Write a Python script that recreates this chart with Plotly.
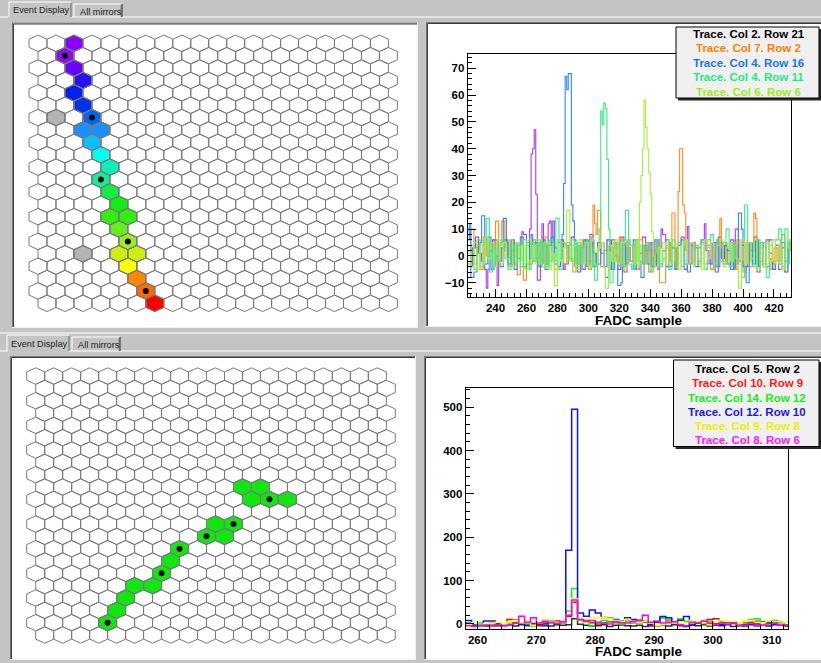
import plotly.graph_objects as go

W, H = 821, 663

# ---------------- hexagonal camera: grid and hit cells ----------------
GRID_COLS = list(range(1, 21))
GRID_ROWS = list(range(1, 23))

top_cell_col = [3, 2, 3, 3, 3, 3, 4, 2, 3, 4, 4, 4, 5, 4, 5, 5, 5, 6, 5, 6, 5, 6, 3, 6, 6, 7, 7]
top_cell_row = [22, 21, 20, 19, 18, 17, 16, 16, 15, 15, 14, 13, 12, 11, 10, 9, 8, 8, 7, 6, 5, 5, 5, 4, 3, 2, 1]
top_cell_color = ["#8c00ff", "#8a0ee6", "#6a00ff", "#2a11ee", "#0022ee", "#0033ee", "#0066ee", "#b4b4b4",
                  "#1a90ff", "#1a90ff", "#11bbff", "#00ffee", "#11eebb", "#11ee99", "#11ee44", "#11ee11",
                  "#33ee11", "#33ee11", "#66ee22", "#99ee22", "#ccee11", "#ccee11", "#b4b4b4", "#ffff00",
                  "#ff8800", "#ff6a00", "#ff0000"]
top_dot_col = [2, 4, 4, 6, 7]
top_dot_row = [21, 16, 11, 6, 2]

bot_cell_col = [12, 13, 13, 14, 15, 11, 12, 10, 11, 9, 8, 8, 6, 7, 6, 5, 5]
bot_cell_row = [13, 13, 12, 12, 12, 10, 10, 9, 9, 8, 7, 6, 5, 5, 4, 3, 2]
bot_cell_color = "#11e611"
bot_dot_col = [5, 8, 9, 10, 12, 14]
bot_dot_row = [2, 6, 8, 9, 10, 12]

# ---------------- FADC traces ----------------
top_first_sample = 222
top_labels = ["Trace. Col 2. Row 21", "Trace. Col 7. Row 2", "Trace. Col 4. Row 16",
              "Trace. Col 4. Row 11", "Trace. Col 6. Row 6"]
top_label_colors = ["#000000", "#ff8000", "#1a75ff", "#1aee80", "#99ee22"]
top_line_colors = ["#a040f0", "#ff8c1a", "#3385ff", "#33ee88", "#a6f033"]

trace_c2_r21 = ([-4, -4, -4, 3, 3, 7, 7, 1, 1, -2, -2, -5, -12, -5, 2, 2, 6, 6, 0, -11, -2] +
                [-2, 3, 3, 6, 6, -3, -3, 2, 2, 5, 5, -1, -1, 4, 9, 8, 8, -3, -3, 10, 38] +
                [40, 47, 23, -9, -9, 2, 12, 4, 4, -3, 12, 13, 5, 13, 3, 3, -4, -4, 6, 6, -5] +
                [-3, -3, 4, 4, 7, 7, 2, 2, -6, -6, 3, 3, 6, 6, -4, -4, 8, 8, 1, 1, -3] +
                [5, 5, 1, 1, -4, -8, -8, 2, 2, 6, 6, 0, 0, -5, -5, 7, 7, -6, -6, 3, 3] +
                [-2, -2, 6, 6, -5, -5, 1, 1, 7, 7, 2, 2, 5, 5, -4, -4, 6, 6, -5, 3, 10] +
                [8, 8, -4, -4, 5, 5, 3, 3, -3, -3, 4, 4, 7, 7, -5, -5, 11, -3, -3, 5, 5] +
                [3, 3, -2, -2, 6, 6, 12, 2, 2, -3, -3, 5, 5, -6, -6, 7, 7, -1, -1, 4, 4] +
                [-3, -3, 6, 6, -5, 10, 10, -2, -2, 4, 4, -4, -4, 5, 5, 2, 2, 7, 7, -6, -6] +
                [3, 3, -4, -4, 6, 6, 1, 1, -3, -3, 4, 4, -5, -5, 3, 3, -2, -2, 5, 5, 3])
trace_c7_r2 = ([2, 2, 10, 10, -3, -3, 4, 4, -5, -5, 7, 7, 0, 0, 5, 5, -4, -4, 13, 13, -2] +
               [5, 13, 13, 2, 2, -4, -4, 6, 6, -3, -3, -7, -7, 5, 5, -9, -9, 4, 4, -3, -3] +
               [6, 6, -1, -1, 5, 5, -4, -4, 7, 7, -2, -2, 4, 4, -5, -5, 6, 6, 2, 2, -3] +
               [-3, 5, 5, -1, -1, -6, -6, 4, 4, -3, -3, 6, 6, -2, -2, -5, -5, 7, 19, 12, 8] +
               [17, 17, -4, -4, 2, 2, 6, 6, -5, -5, 5, 5, -2, -2, 7, 7, -4, -4, 5, 5, 3] +
               [-2, -2, 4, 4, -5, -5, 6, 6, -3, -3, 5, 5, -6, -6, 2, 2, -2, -2, 5, -10, -10] +
               [-10, -10, 3, 3, -2, 5, 16, 16, -5, 3, 24, 40, 40, 19, 16, 2, -3, -3, 5, 5, -2] +
               [4, 4, -4, -4, 5, 5, -3, -3, 6, 6, -5, -5, 1, 1, 6, 6, 14, 3, -2, -2, 5] +
               [-3, -3, 4, 4, -5, -5, 6, 6, -2, -2, -6, -6, 5, 5, -4, -4, 2, 16, 14, 3, -2] +
               [5, 5, -3, -3, 6, 6, -1, -5, -5, 3, 3, -2, -2, 6, 8, 8, -6, -6, 2, 2, 5])
trace_c4_r16 = ([6, 12, -8, -8, -6, -6, 3, 3, 5, 15, 15, -3, -3, 7, 7, -5, -5, 6, 6, -2, -2] +
                [-4, -4, 14, 14, 5, -3, -3, 6, 6, -5, -5, 4, 4, 7, 7, -4, -4, 5, 5, -1, 8] +
                [-2, -2, 5, 5, -4, -4, 6, 6, -5, -5, 4, 4, 7, 7, -3, -3, 5, 5, -1, 8, 27] +
                [67, 62, 68, 68, 19, 13, 6, -3, -3, 4, 4, -5, -5, 6, 6, -2, -2, 5, -4, -4, 1] +
                [-3, -3, 5, 5, -4, -4, 6, 6, 2, -5, -5, 5, 5, -11, -11, -10, 4, 4, -3, 6, 6] +
                [4, 4, -5, -5, 6, 6, -2, -8, -8, 4, 4, -3, -3, 5, 5, -4, -4, 6, 6, -3, -3] +
                [2, 2, 6, 6, -4, -4, 3, 3, -5, -5, 4, 4, 6, 6, -3, -3, -6, -6, 4, 4, -2] +
                [-4, -4, 3, 3, 6, 6, -5, -5, 4, 4, -3, -3, 5, 5, -4, -4, 5, 5, -3, -3, 4] +
                [2, 2, -5, -5, 4, 4, -3, 16, 16, 10, -4, -4, -10, -10, 5, 5, -3, -3, 6, 6, -4] +
                [-2, -2, 5, 5, -4, -4, 6, 6, -5, -5, 4, 4, -3, -3, 5, 5, -6, -6, 3, 5, 5])
trace_c4_r11 = ([-3, -3, 4, 4, -5, -5, 6, 6, -4, -4, 5, 5, 14, 14, -6, -6, 3, 3, -2, -2, 4] +
                [4, 6, 6, -1, -1, -5, -5, 4, 4, -2, -2, 5, 5, -4, -4, 6, 6, -3, -3, -5, 5] +
                [5, -2, -2, 6, 6, -3, -3, 5, 5, -4, -4, 6, 6, -2, -2, 14, 14, -5, -5, 5, 5] +
                [4, 4, -2, -2, 6, 6, -4, -4, 5, 5, -3, -3, 4, 4, 6, 6, -4, -4, 3, -9, -9] +
                [2, 10, 54, 49, 57, 55, 36, 10, -10, -10, 3, 3, 5, 5, -4, -4, 6, 6, 17, 17, -3] +
                [-3, -5, -5, 6, 6, -2, -2, 4, 4, -3, -3, 5, 5, -6, -6, 1, 1, 6, 6, -4, -4] +
                [-1, -1, 4, 4, -5, -5, 6, 6, -3, -3, 5, 5, -4, -4, 6, 6, -3, -3, 5, 5, -2] +
                [4, 4, -3, -3, 6, 6, -5, -5, 3, 3, 8, 8, -4, -4, 6, 6, -2, -2, 5, 5, 10] +
                [10, -4, -4, 5, 5, -1, -1, -3, -3, -8, -8, 19, 19, -2, -2, 5, 5, -4, -4, 6, 6] +
                [-3, -3, 5, 5, -8, -8, 4, 4, -2, -2, 6, 6, 10, 10, -4, -4, 10, 10, -3, 6, 6])
trace_c6_r6 = ([1, 1, -4, -4, 5, 5, -5, -5, 4, 4, -3, 7, 7, -1, -1, 5, 5, -4, -4, 6, 6] +
               [-3, -3, 5, 5, -1, -1, 6, 6, -4, -4, 5, 5, -2, -2, 4, 4, -5, -5, 6, 6, -2] +
               [4, 4, -3, -3, 6, 6, -4, -4, 5, 5, -5, -5, 1, 1, -11, -11, 6, 6, -2, -2, 3] +
               [5, 17, 17, -2, -2, 4, 4, -5, -5, 6, 6, -3, -3, 5, 5, -4, -4, 6, 6, -3, -3] +
               [3, 3, 5, 5, -4, -12, -12, 4, 4, -2, -2, 6, 6, -3, -3, 5, 5, -5, -5, 6, 6] +
               [4, 4, -3, -3, 6, -4, 20, 30, 40, 58, 48, 40, 31, 23, 9, 0, -4, -4, 3, 3, -2] +
               [5, 5, -3, -3, 6, 6, -2, -2, 5, 5, -5, -5, 4, 4, 6, 6, -3, -3, 5, 5, -4] +
               [-2, -2, 4, 4, -5, -5, 6, 6, -1, -1, 5, 5, -3, -3, 4, 4, 6, 6, -4, -4, 3] +
               [5, 5, -2, -2, 4, 4, -4, -12, -12, 6, 6, -3, -3, 5, 5, -1, -1, 6, 6, -5, -5] +
               [3, 3, -4, -4, 5, 5, -2, -2, 6, 6, -3, -3, 4, 4, -5, -5, 3, 3, 6, 6, 3])
top_traces = [trace_c2_r21, trace_c7_r2, trace_c4_r16, trace_c4_r11, trace_c6_r6]

bot_first_sample = 258
bot_labels = ["Trace. Col 5. Row 2", "Trace. Col 10. Row 9", "Trace. Col 14. Row 12",
              "Trace. Col 12. Row 10", "Trace. Col 9. Row 8", "Trace. Col 8. Row 6"]
bot_label_colors = ["#000000", "#ff1a1a", "#1aee1a", "#1a1aee", "#eeee00", "#ff1aff"]
bot_line_colors = ["#303030", "#ff0000", "#00ff00", "#1010ff", "#ffff00", "#ff00ff"]

trace_c5_r2 = ([-3, -5, -4, -5, -3, -4, -2, -3, -5, -2, -4, -3, -1, -4, -5, -2, -3] +
               [-2, 12, -1, -3, -5, -4, -2, -6, -3, -2, -4, -5, -3, -6, -2, -4, -3, -5, -2, -4, -6, -3] +
               [-4, -2, -5, -3, -4, -2, -6, -3, -5, -2, -4, -3, -5, 2, -3, -4])
trace_c10_r9 = ([0, -3, -4, -2, -4, -1, -3, 10, 9, 2, 5, 1, -4, 3, 4, 7, 3] +
                [18, 50, 10, 8, 3, 0, 2, 5, 4, -2, 6, 3, 8, 5, -5, 4, 14, 6, 3, 9, 5, -2] +
                [2, 6, 10, 12, 3, 4, 1, -3, 2, 4, 6, 5, 2, 4, 1, -2])
trace_c14_r12 = ([3, -2, 2, 0, 3, 1, -2, 2, 4, 1, 0, -5, 3, 5, 8, 2, 3] +
                 [30, 82, 8, 5, -5, 3, 8, 4, 2, 0, 6, 4, 2, 8, 3, 6, 15, 10, 4, 12, 6, 2] +
                 [4, 1, 6, 3, 5, 4, 2, -2, 1, 10, 12, 5, 6, 8, 4, -3])
trace_c12_r10 = ([8, -3, -3, 7, 7, 2, -2, -3, 2, 0, -3, 0, 2, 0, 3, 2, 5] +
                 [170, 495, 25, 18, 32, 25, 15, 13, 10, 6, 14, 10, 8, 5, -2, 5, 17, 14, 5, 8, 17, -3] +
                 [2, 4, 0, 2, -2, 5, 3, -4, -2, 3, 0, 4, 2, -2, 3, -5])
trace_c9_r8 = ([-2, 3, -6, 1, 2, 4, 0, 5, 8, 3, 6, -3, 2, 10, 6, 4, 5] +
               [20, 58, 12, 10, 14, 15, 15, 12, 8, 5, 10, 6, 4, 6, 2, -3, -2, 4, 2, 5, 3, 8] +
               [6, 3, -2, 4, 8, 6, 5, 2, 6, 8, 4, 3, 6, 5, 2, 4])
trace_c8_r6 = ([-4, -6, -5, -3, -4, -2, -5, -3, 2, 18, 4, 14, 2, 6, 4, 1, 5] +
               [20, 55, 10, 6, 8, 4, 2, 0, 5, 3, 2, 6, 8, 20, 4, 6, 2, 3, 5, -2, -4, 4] +
               [3, 6, 2, -2, 2, 0, 3, -4, -3, 2, -4, -3, 0, 2, -3, -5])
bot_traces = [trace_c5_r2, trace_c10_r9, trace_c14_r12, trace_c12_r10, trace_c9_r8, trace_c8_r6]

TAB_LABELS = ["Event Display", "All mirrors"]
X_TITLE = "FADC sample"

# ---------------- helpers ----------------
def PX(x):
    return x / W


def PY(y):
    return 1 - y / H


shapes = []


def rect(x0, y0, x1, y1, fill, line_color=None, lw=0, layer="below"):
    shapes.append(dict(type="rect", xref="paper", yref="paper", x0=PX(x0), x1=PX(x1),
                       y0=PY(y1), y1=PY(y0), fillcolor=fill, layer=layer,
                       line=dict(color=line_color or fill, width=lw)))


def seg(x0, y0, x1, y1, color, lw=1, layer="below"):
    shapes.append(dict(type="line", xref="paper", yref="paper", x0=PX(x0), x1=PX(x1),
                       y0=PY(y0), y1=PY(y1), layer=layer, line=dict(color=color, width=lw)))


def canvas(x0, y0, x1, y1):
    rect(x0, y0, x1, y1, "#ffffff")
    seg(x0, y0 + 0.5, x1, y0 + 0.5, "#7a7a7a", 1)
    seg(x0 + 0.5, y0, x0 + 0.5, y1, "#7a7a7a", 1)
    seg(x0 + 1.5, y0 + 1.5, x1, y0 + 1.5, "#3c3c3c", 1)
    seg(x0 + 1.5, y0 + 1.5, x0 + 1.5, y1, "#3c3c3c", 1)
    seg(x0, y1 - 0.5, x1, y1 - 0.5, "#f2f2f2", 1)
    seg(x1 - 0.5, y0, x1 - 0.5, y1, "#f2f2f2", 1)


def hex_xy(c, r):
    x = c + (0.5 if r % 2 == 1 else 0.0)
    return ([x, x + 0.5, x + 0.5, x, x - 0.5, x - 0.5, x],
            [r + 2 / 3, r + 1 / 3, r - 1 / 3, r - 2 / 3, r - 1 / 3, r + 1 / 3, r + 2 / 3])


def hex_center(c, r):
    return c + (0.5 if r % 2 == 1 else 0.0), r


fig = go.Figure()
annotations = []


def add_camera(ax, cells_c, cells_r, colors, dots_c, dots_r, dom_px, cx0, pitch, ry1, dy):
    px0, py0, px1, py1 = dom_px
    xa, ya = "x" + ax, "y" + ax
    for c, r, col in zip(cells_c, cells_r, colors):
        xs, ys = hex_xy(c, r)
        fig.add_trace(go.Scatter(x=xs, y=ys, mode="lines", fill="toself", fillcolor=col,
                                 line=dict(color="#777777", width=1), xaxis=xa, yaxis=ya,
                                 hoverinfo="skip", showlegend=False))
    gx, gy = [], []
    for r in GRID_ROWS:
        for c in GRID_COLS:
            xs, ys = hex_xy(c, r)
            gx += xs + [None]
            gy += ys + [None]
    fig.add_trace(go.Scatter(x=gx, y=gy, mode="lines", line=dict(color="#7a7a7a", width=1),
                             xaxis=xa, yaxis=ya, hoverinfo="skip", showlegend=False))
    dx_, dy_ = zip(*[hex_center(c, r) for c, r in zip(dots_c, dots_r)])
    fig.add_trace(go.Scatter(x=list(dx_), y=list(dy_), mode="markers",
                             marker=dict(color="black", size=6, line=dict(width=0)),
                             xaxis=xa, yaxis=ya, hoverinfo="skip", showlegend=False))
    xr = [1 + (px0 - cx0) / pitch, 1 + (px1 - cx0) / pitch]
    yr = [1 + (ry1 - py1) / dy, 1 + (ry1 - py0) / dy]
    fig.update_layout(**{
        "xaxis" + ax: dict(domain=[PX(px0), PX(px1)], range=xr, visible=False, anchor="y" + ax),
        "yaxis" + ax: dict(domain=[PY(py1), PY(py0)], range=yr, visible=False, anchor="x" + ax),
    })


def add_hist(ax, first, traces, line_colors, lw, dom_px, xr, yr, xd, xminor, yd, yminor,
             labels, label_colors, box_px, label_y, title_xy):
    px0, py0, px1, py1 = dom_px
    xa, ya = ("x" + ax) if ax else "x", ("y" + ax) if ax else "y"
    for vals, col in zip(traces, line_colors):
        edges = list(range(first, first + len(vals) + 1))
        fig.add_trace(go.Scatter(x=edges, y=list(vals) + [vals[-1]], mode="lines",
                                 line=dict(color=col, width=lw, shape="hv"),
                                 xaxis=xa, yaxis=ya, hoverinfo="skip", showlegend=False))
    tf = dict(family="Liberation Sans", size=11.5, color="black", weight="bold")
    common = dict(showline=True, linecolor="black", linewidth=1, mirror=True, showgrid=False,
                  zeroline=False, ticks="inside", ticklen=8, tickcolor="black", tickfont=tf)
    fig.update_layout(**{
        "xaxis" + ax: dict(domain=[PX(px0), PX(px1)], range=xr, dtick=xd, tick0=0,
                           minor=dict(dtick=xminor, ticks="inside", ticklen=4, tickcolor="black"),
                           anchor=ya, **common),
        "yaxis" + ax: dict(domain=[PY(py1), PY(py0)], range=yr, dtick=yd, tick0=0,
                           minor=dict(dtick=yminor, ticks="inside", ticklen=4, tickcolor="black"),
                           anchor=xa, **common),
    })
    bx0, by0, bx1, by1 = box_px
    rect(bx0 + 2, by0 + 2, bx1 + 2, by1 + 2.5, "#2a2a2a", layer="above")
    rect(bx0, by0, bx1, by1, "#f0f0f0", "#000000", 1, layer="above")
    cx = (bx0 + bx1) / 2 + 1
    for txt, col, yy in zip(labels, label_colors, label_y):
        annotations.append(dict(x=PX(cx), y=PY(yy), xref="paper", yref="paper", text="<b>%s</b>" % txt,
                                showarrow=False, xanchor="center", yanchor="middle",
                                font=dict(family="Liberation Sans", size=11.5, color=col)))
    annotations.append(dict(x=PX(title_xy[0]), y=PY(title_xy[1]), xref="paper", yref="paper",
                            text="<b>%s</b>" % X_TITLE, showarrow=False, xanchor="center",
                            yanchor="middle", font=dict(family="Liberation Sans", size=13.5, color="black")))


def tab_bar(y_top, y_line, sel_text_x, tab2_x0, tab2_x1):
    seg(0, y_line, 8, y_line, "#ffffff", 1)
    seg(tab2_x0 - 3, y_line, W, y_line, "#ffffff", 1)
    seg(sel_text_x - 2, y_top, sel_text_x - 2, y_line, "#ffffff", 1)
    seg(sel_text_x - 2, y_top, tab2_x0 - 3, y_top, "#ffffff", 1)
    seg(tab2_x0 - 3, y_top + 1, tab2_x0 - 3, y_line, "#6a6a6a", 1)
    seg(tab2_x0, y_top + 2, tab2_x0, y_line, "#ffffff", 1)
    seg(tab2_x0, y_top + 2, tab2_x1, y_top + 2, "#ffffff", 1)
    seg(tab2_x1 - 1, y_top + 3, tab2_x1 - 1, y_line, "#8a8a8a", 1)
    seg(tab2_x1, y_top + 2, tab2_x1, y_line, "#2a2a2a", 1)
    tf = dict(family="Liberation Sans", size=9.2, color="#1e1e1e")
    annotations.append(dict(x=PX(sel_text_x), y=PY(y_top + 8.5), xref="paper", yref="paper",
                            text=TAB_LABELS[0], showarrow=False, xanchor="left", yanchor="middle", font=tf))
    annotations.append(dict(x=PX(tab2_x0 + 4), y=PY(y_top + 9.5), xref="paper", yref="paper",
                            text=TAB_LABELS[1], showarrow=False, xanchor="left", yanchor="middle", font=tf))


# ---------------- GUI frames ----------------
tab_bar(2, 17, 11, 74, 122)
seg(0, 333, W, 333, "#ffffff", 1)
tab_bar(335, 351, 9, 72, 120)

canvas(12, 22.5, 418, 328)
canvas(426, 22, W + 2, 327)
canvas(10, 356, 416, 660)
canvas(424, 356, W + 2, 660)

# ---------------- cameras ----------------
add_camera("3", top_cell_col, top_cell_row, top_cell_color, top_dot_col, top_dot_row,
           (14, 25, 417, 327), 38.0, 17.97, 303.3, 12.38)
add_camera("4", bot_cell_col, bot_cell_row, [bot_cell_color] * len(bot_cell_col), bot_dot_col,
           bot_dot_row, (12, 358, 415, 659), 35.7, 17.98, 635.0, 12.33)

# ---------------- histograms ----------------
add_hist("", top_first_sample, top_traces, top_line_colors, 1.1, (467.7, 54.3, 791, 296.7),
         [222, 431], [-15.2, 75.2], 20, 4, 10, 2, top_labels, top_label_colors,
         (676, 27, 819, 98), [34, 48.3, 62.7, 77.2, 91.6], (638.5, 320))
add_hist("2", bot_first_sample, bot_traces, bot_line_colors, 1.5, (465.7, 387.7, 788.3, 628.7),
         [258, 312.8], [-11, 545], 10, 2, 100, 20, bot_labels, bot_label_colors,
         (673.5, 360, 819, 446.5), [369, 383.3, 397.5, 411.7, 426, 440.3], (638.7, 651.7))

fig.update_layout(width=W, height=H, margin=dict(l=0, r=0, t=0, b=0),
                  paper_bgcolor="#c4c4c4", plot_bgcolor="rgba(0,0,0,0)",
                  shapes=shapes, annotations=annotations, showlegend=False)

fig.write_html("out.html", config={"displayModeBar": False},
               post_script="document.body.style.margin='0px';document.body.style.background='#c4c4c4';")
